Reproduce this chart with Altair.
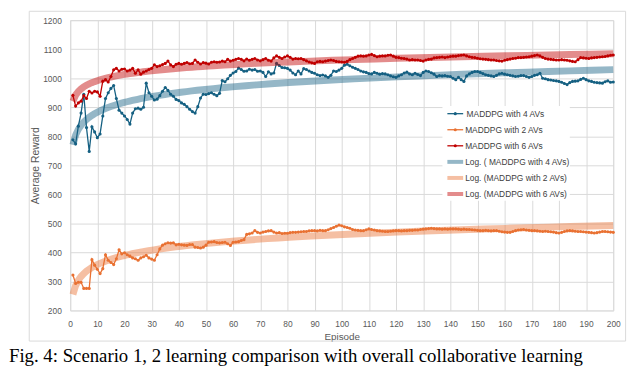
import altair as alt
import pandas as pd

series_names = ["MADDPG with 4 AVs", "MADDPG with 2 AVs", "MADDPG with 6 AVs"]
series_colors = ["#156082", "#E97132", "#C00000"]
trend_labels = ["Log. ( MADDPG with 4 AVs)", "Log. (MADDPG with 2 AVs)", "Log. (MADDPG with 6 AVs)"]

episodes = list(range(1, 201))

reward_4av = [
    788, 774, 835, 880, 945, 830, 748, 833, 815, 795,
    808, 870, 930, 950, 965, 975, 930, 890, 880, 870,
    858, 842, 880, 895, 897, 893, 900, 983, 950, 938,
    925, 928, 940, 955, 968, 958, 945, 938, 927, 923,
    915, 910, 902, 893, 885, 880, 902, 932, 945, 944,
    947, 950, 945, 940, 948, 992, 988, 998, 1010, 1018,
    1023, 1035, 1030, 1024, 1025, 1031, 1028, 1030, 1024, 1025,
    1020, 1006, 1022, 1015, 1018, 1051, 1044, 1037, 1036, 1034,
    1028, 1018, 1012, 1025, 1015, 1033, 1030, 1025, 1020, 1017,
    1012, 1009, 1011, 1008, 1003, 1010, 1025, 1023, 1028, 1034,
    1045, 1048, 1043, 1038, 1034, 1030, 1025, 1022, 1020, 1016,
    1015, 1020, 1017, 1014, 1016, 1015, 1012, 1008, 1005, 1003,
    1008, 1012, 1018, 1021, 1015, 1012, 1017, 1013, 1009, 1020,
    1025, 1023, 1019, 1014, 1006, 1009, 1008, 1009, 1007, 1006,
    1000, 995, 1003, 995, 989, 1008, 1015, 1020, 1023, 1023,
    1020, 1016, 1012, 1010, 1008, 1006, 1010, 1015, 1017, 1014,
    1012, 1010, 1008, 1006, 1007, 1009, 1009, 1006, 1003, 1006,
    1010, 1012, 1017, 1000, 998, 995, 994, 992, 991, 989,
    986, 982, 978, 985, 989, 990, 991, 996, 1000, 995,
    991, 989, 986, 985, 984, 983, 988, 991, 986, 987,
]

reward_2av = [
    322, 293, 297, 297, 276, 276, 276, 375, 356, 342,
    327, 344, 392, 373, 365, 358, 378, 409, 395, 399,
    392, 387, 381, 378, 373, 381, 385, 390, 381, 377,
    373, 392, 412, 425, 430, 433, 432, 433, 426, 428,
    426, 425, 424, 427, 427, 418, 417, 415, 418, 425,
    435, 436, 437, 434, 433, 434, 435, 430, 424, 435,
    436, 437, 441, 444, 462, 464, 467, 475, 469, 467,
    470, 472, 474, 475, 470, 467, 468, 465, 466, 466,
    468, 469, 469, 470, 471, 472, 472, 474, 475, 475,
    474, 476, 475, 475, 478, 482, 486, 490, 494, 492,
    488, 486, 483, 479, 477, 476, 475, 475, 478, 481,
    479, 477, 475, 474, 473, 472, 472, 473, 474, 475,
    475, 474, 475, 475, 476, 476, 477, 477, 479, 480,
    481, 482, 483, 482, 481, 481, 480, 481, 480, 481,
    481, 481, 480, 479, 480, 479, 479, 478, 477, 476,
    475, 475, 476, 475, 474, 475, 475, 473, 471, 470,
    469, 469, 472, 475, 477, 478, 479, 477, 476, 475,
    475, 474, 473, 472, 473, 472, 471, 470, 468, 467,
    469, 472, 474, 475, 474, 473, 472, 472, 471, 470,
    469, 468, 467, 468, 470, 472, 472, 471, 470, 469,
]

reward_6av = [
    941, 904, 915, 921, 940, 930, 955, 949, 955, 953,
    938, 990, 995, 987, 1006, 1029, 1034, 1025, 1031, 1032,
    1025, 1028, 1034, 1017, 1029, 1014, 1021, 1025, 1030, 1034,
    1046, 1040, 1043, 1047, 1051, 1059, 1046, 1040, 1048, 1051,
    1048, 1051, 1054, 1050, 1051, 1063, 1055, 1049, 1054, 1052,
    1049, 1055, 1057, 1055, 1056, 1059, 1057, 1065, 1059, 1062,
    1065, 1068, 1065, 1060, 1066, 1062, 1065, 1068, 1063, 1060,
    1064, 1068, 1062, 1059, 1070, 1077, 1072, 1068, 1073, 1077,
    1072, 1066, 1068, 1067, 1068, 1064, 1060, 1056, 1053, 1051,
    1057, 1058, 1057, 1059, 1061, 1063, 1061, 1058, 1057, 1056,
    1055, 1058, 1064, 1068, 1072, 1076, 1077, 1076, 1077, 1080,
    1082, 1078, 1074, 1076, 1077, 1077, 1079, 1080, 1076, 1072,
    1071, 1069, 1068, 1066, 1063, 1064, 1063, 1063, 1061, 1059,
    1063, 1065, 1066, 1070, 1071, 1072, 1073, 1071, 1073, 1075,
    1076, 1076, 1078, 1079, 1080, 1077, 1074, 1072, 1071, 1069,
    1067, 1066, 1065, 1064, 1063, 1063, 1061, 1060, 1059, 1062,
    1064, 1066, 1068, 1069, 1071, 1071, 1072, 1073, 1074, 1076,
    1078, 1080, 1077, 1072, 1068, 1066, 1065, 1064, 1063, 1063,
    1064, 1063, 1062, 1060, 1058, 1057, 1064, 1071, 1070, 1069,
    1068, 1070, 1071, 1072, 1073, 1074, 1075, 1077, 1079, 1080,
]

x_ticks = list(range(0, 201, 10))
y_ticks = list(range(200, 1201, 100))
caption = "Fig. 4: Scenario 1, 2 learning comparison with overall collaborative learning"

rows = []
for name, vals in zip(series_names, [reward_4av, reward_2av, reward_6av]):
    for e, v in zip(episodes, vals):
        rows.append({"ep": e, "val": v, "series": name})
df = pd.DataFrame(rows)

color_scale = alt.Scale(domain=series_names, range=series_colors)
FONT = "Liberation Sans"
GRID = "#d9d9d9"

x_enc = alt.X("ep:Q", scale=alt.Scale(domain=[0, 200], nice=False, zero=False),
              axis=alt.Axis(values=x_ticks, format="d", title="Episode", grid=True, gridColor=GRID,
                            domain=False, ticks=False, labelPadding=9, labelFontSize=8.5,
                            labelColor="#595959", labelFont=FONT, titleFont=FONT,
                            titleFontSize=10, titleColor="#595959", titleFontWeight="normal",
                            titlePadding=4, labelFlush=False))
y_enc = alt.Y("val:Q", scale=alt.Scale(domain=[200, 1200], nice=False, zero=False),
              axis=alt.Axis(values=y_ticks, format="d", title="Average Reward", grid=True, gridColor=GRID,
                            domain=False, ticks=False, labelPadding=9, labelFontSize=8.5,
                            labelColor="#595959", labelFont=FONT, titleFont=FONT,
                            titleFontSize=10.5, titleColor="#595959", titleFontWeight="normal",
                            titlePadding=2))
c_enc = alt.Color("series:N", scale=color_scale, legend=None)

base = alt.Chart(df)
lines = base.mark_line(strokeWidth=1.3).encode(x=x_enc, y=y_enc, color=c_enc, detail="series:N")
points = base.mark_circle(size=10, opacity=1).encode(x=x_enc, y=y_enc, color=c_enc)
trends = base.transform_regression("ep", "val", method="log", groupby=["series"]).mark_line(
    strokeWidth=7, opacity=0.45, strokeCap="butt").encode(x=x_enc, y=y_enc, color=c_enc)

one = pd.DataFrame({"k": [0]})
frame = alt.Chart(one).mark_rect(fill=None, stroke="#d9d9d9", strokeWidth=1).encode(
    x=alt.value(-41.5), x2=alt.value(562.5), y=alt.value(-9), y2=alt.value(325))
legend_bg = alt.Chart(one).mark_rect(fill="white", stroke=None).encode(
    x=alt.value(377), x2=alt.value(506), y=alt.value(87), y2=alt.value(183))

legend_layers = [legend_bg]
labels = series_names + trend_labels
colors = series_colors + series_colors
for i, (lab, col) in enumerate(zip(labels, colors)):
    yy = 94.7 + i * 16.27
    trend = i >= 3
    legend_layers.append(alt.Chart(one).mark_rule(
        color=col, strokeWidth=4 if trend else 1.3, opacity=0.45 if trend else 1).encode(
        x=alt.value(382), x2=alt.value(398), y=alt.value(yy)))
    if not trend:
        legend_layers.append(alt.Chart(one).mark_circle(size=10, color=col, opacity=1).encode(
            x=alt.value(390), y=alt.value(yy)))
    legend_layers.append(alt.Chart(one).mark_text(
        align="left", baseline="middle", font=FONT, fontSize=8.5, color="#404040").encode(
        x=alt.value(401.5 if i == 0 else 400), y=alt.value(yy), text=alt.value(lab)))

cap = alt.Chart(one).mark_text(align="left", baseline="alphabetic", font="Liberation Serif",
                               fontSize=19, color="black").encode(
    x=alt.value(-62), y=alt.value(346), text=alt.value(caption))

chart = alt.layer(frame, lines, points, trends, *legend_layers, cap).properties(
    width=550, height=294,
    autosize=alt.AutoSizeParams(type="none"),
    padding={"left": 63, "top": 10, "right": 19, "bottom": 60},
).configure_view(strokeWidth=0).configure(background="white")

chart.save("out.html", embed_options={"renderer": "svg", "actions": False})
